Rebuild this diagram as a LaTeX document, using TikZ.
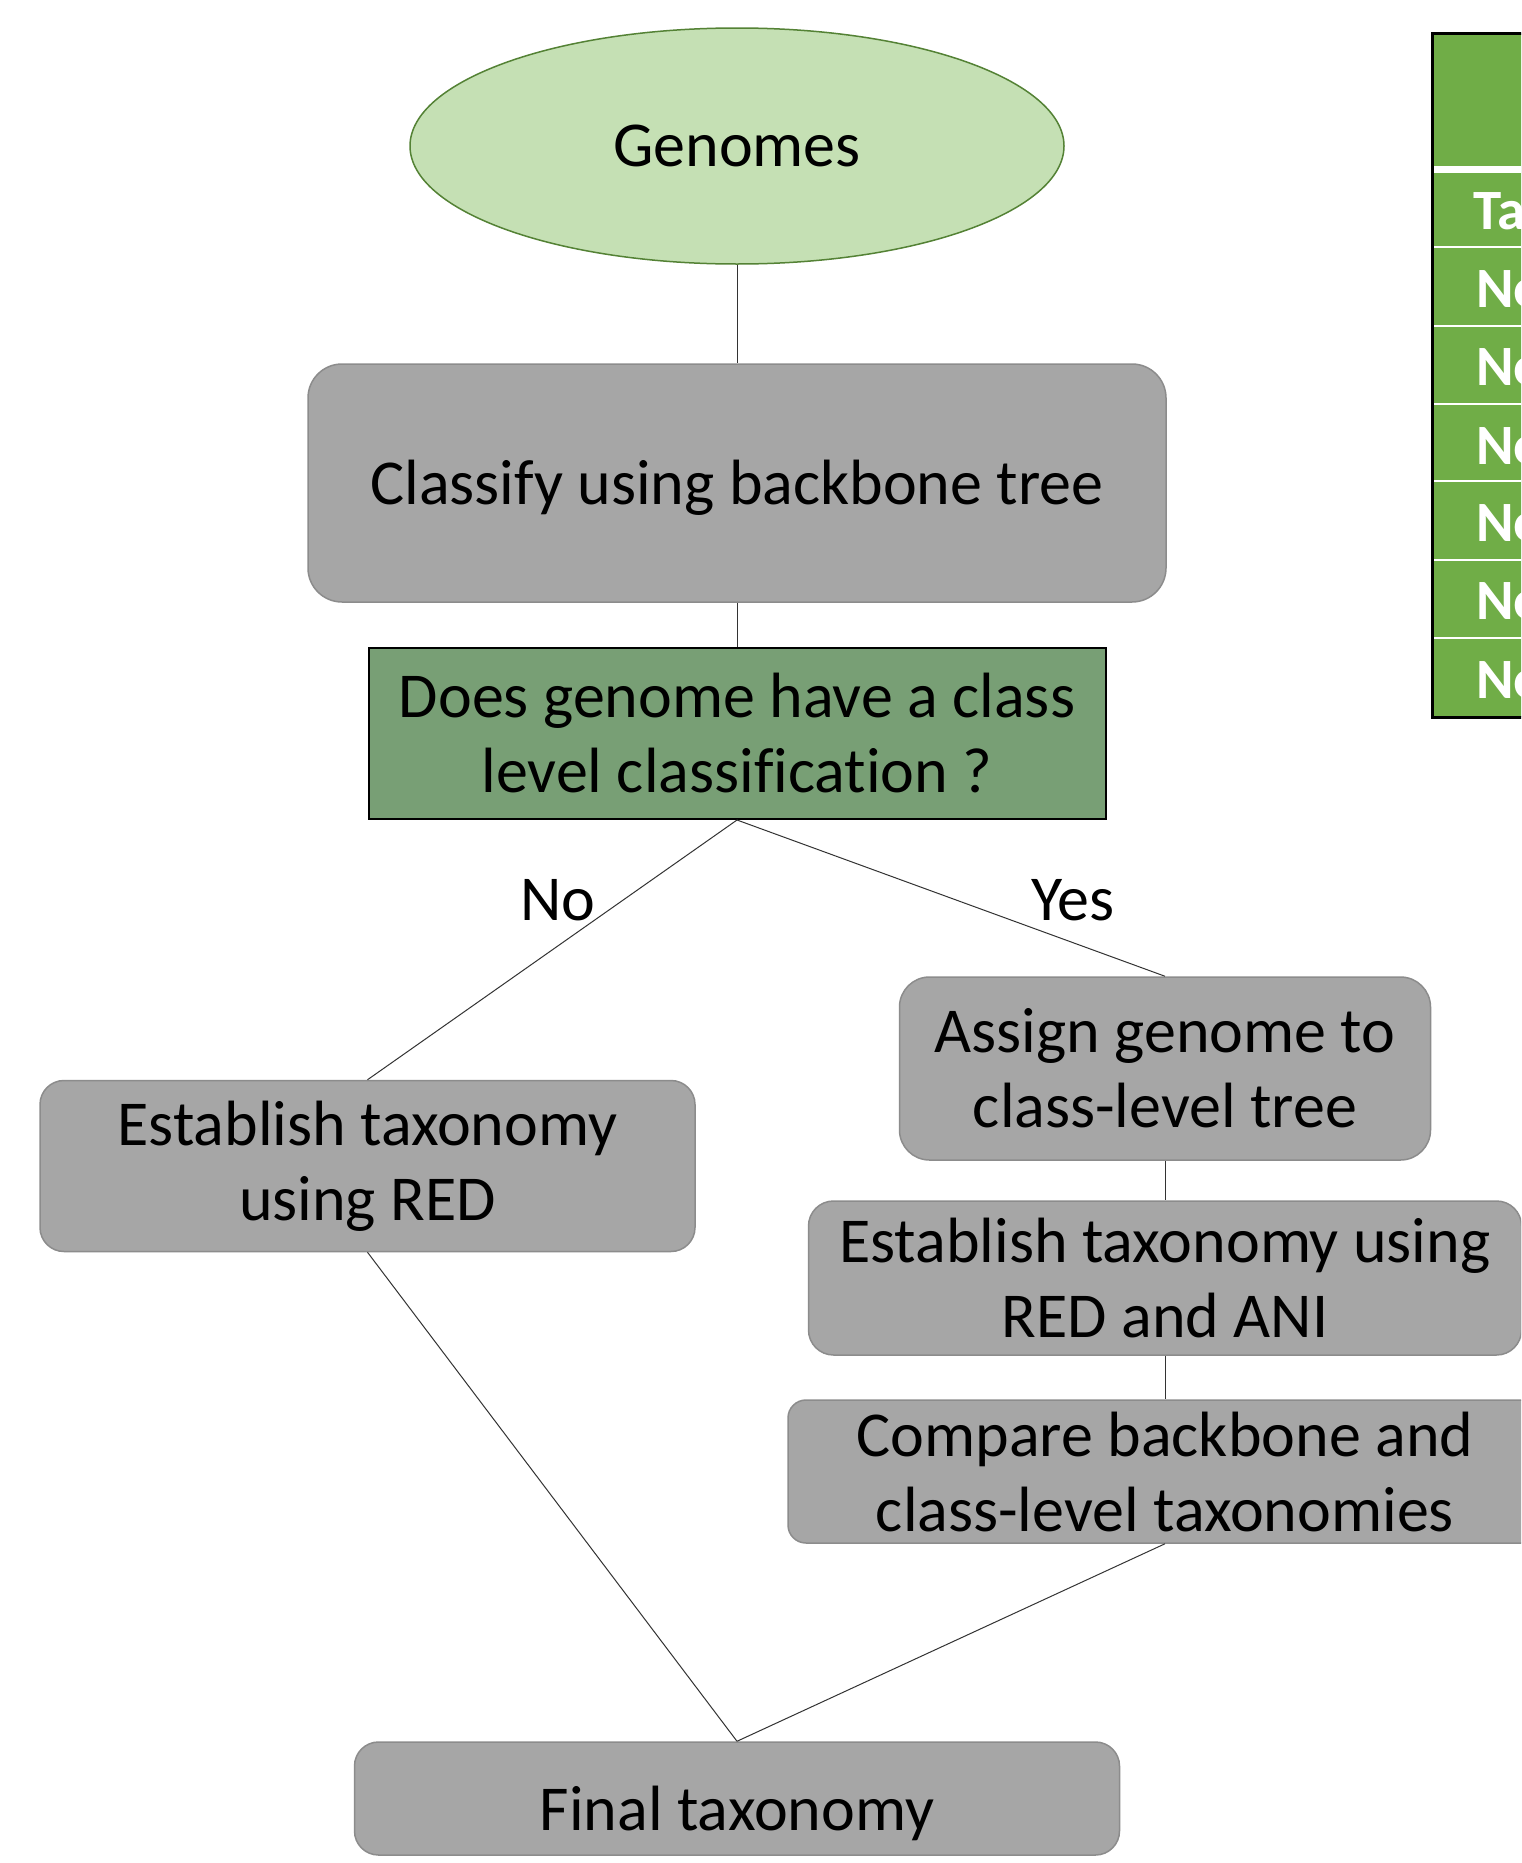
\documentclass[tikz,border=0pt]{standalone}
\usepackage{fontspec}
\setmainfont[Ligatures={NoCommon}]{Carlito}
\usetikzlibrary{shapes.geometric}
\definecolor{ellfill}{HTML}{C5E0B4}
\definecolor{elldraw}{HTML}{548235}
\definecolor{boxfill}{HTML}{A6A6A6}
\definecolor{boxdraw}{HTML}{8C8C8C}
\definecolor{decfill}{HTML}{789F75}
\definecolor{tabfill}{HTML}{70AD47}
\tikzset{
  txt/.style={font=\fontsize{64}{75}\selectfont, text=black, align=center},
  graybox/.style={txt, draw=boxdraw, fill=boxfill, line width=1.5pt, inner sep=0pt},
  conn/.style={draw=black!80, line width=1pt},
  tabtxt/.style={font=\fontsize{57}{60}\selectfont\bfseries, text=white, anchor=west, inner sep=0pt},
}
\begin{document}
\begin{tikzpicture}[x=1pt,y=-1pt]
\useasboundingbox (0,0) rectangle (1521,1863);
\clip (0,0) rectangle (1521,1863);
\fill[white] (0,0) rectangle (1521,1863);

% nodes
\node[txt, ellipse, draw=elldraw, fill=ellfill, line width=1.5pt, minimum width=654pt, minimum height=236pt, inner sep=0pt] (gen) at (737,146) {Genomes};
\node[graybox, rounded corners=34pt, minimum width=858pt, minimum height=238pt, text height=50pt, text depth=7pt] (cls) at (737,483) {Classify using backbone tree};
\node[txt, draw=black, fill=decfill, line width=2pt, minimum width=737pt, minimum height=171pt, inner sep=0pt] (dec) at (737,733.5) {Does genome have a class\\level classification ?};
\node[graybox, rounded corners=24pt, minimum width=655pt, minimum height=171pt] (red) at (367.5,1166) {Establish taxonomy\\using RED};
\node[graybox, rounded corners=30pt, minimum width=531pt, minimum height=183pt] (asg) at (1165,1068.5) {Assign genome to\\class-level tree};
\node[graybox, rounded corners=25pt, minimum width=713pt, minimum height=154pt] (ani) at (1165,1278) {Establish taxonomy using\\RED and ANI};
\node[graybox, rounded corners=18pt, minimum width=754pt, minimum height=143pt] (cmp) at (1165,1471.5) {Compare backbone and\\class-level taxonomies};
\node[graybox, rounded corners=24pt, minimum width=765pt, minimum height=113pt] (fin) at (737,1798.5) {};
\node[txt, inner sep=0pt] (finT) at (737,1813) {Final taxonomy};

\node[txt, inner sep=0pt] (no) at (558,900) {No};
\node[txt, inner sep=0pt] (yes) at (1073,900) {Yes};

% connectors
\draw[conn] (gen.south) -- (cls.north);
\draw[conn] (cls.south) -- (dec.north);
\draw[conn] (dec.south) -- (red.north);
\draw[conn] (dec.south) -- (asg.north);
\draw[conn] (asg.south) -- (ani.north);
\draw[conn] (ani.south) -- (cmp.north);
\draw[conn] (red.south) -- (fin.north);
\draw[conn] (cmp.south) -- (fin.north);

% table (cut off at the right edge, as in the reference)
\fill[tabfill] (1432,33) rectangle (1540,717);
\draw[white, line width=7pt] (1433,169.5) -- (1540,169.5);
\foreach \yy in {247,326,404,481,560,638}
  \draw[white, line width=2pt] (1433,\yy) -- (1540,\yy);
\draw[black, line width=3pt] (1540,33) -- (1432,33) -- (1432,717) -- (1540,717);
\node[tabtxt] (t0) at (1473,211) {Ta};
\node[tabtxt] (t1) at (1476,289) {No};
\node[tabtxt] (t2) at (1476,367) {No};
\node[tabtxt] (t3) at (1476,446) {No};
\node[tabtxt] (t4) at (1476,523) {No};
\node[tabtxt] (t5) at (1476,601) {No};
\node[tabtxt] (t6) at (1476,680) {No};
\end{tikzpicture}
\end{document}
